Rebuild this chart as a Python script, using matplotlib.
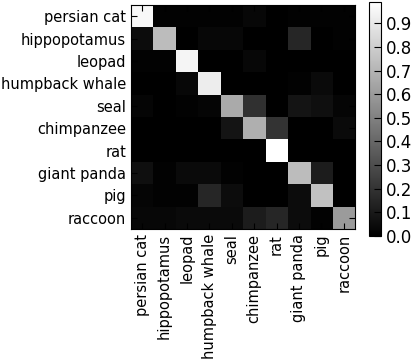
import numpy as np
import matplotlib
matplotlib.use('Agg')
import matplotlib.pyplot as plt

classes = ['persian cat', 'hippopotamus', 'leopad', 'humpback whale', 'seal',
           'chimpanzee', 'rat', 'giant panda', 'pig', 'raccoon']

# rows = true class, cols = predicted class
persian_cat = [0.96, 0.01, 0.01, 0.01, 0.01, 0.03, 0.00, 0.01, 0.01, 0.01]
hippopotamus = [0.05, 0.73, 0.00, 0.03, 0.03, 0.00, 0.00, 0.15, 0.00, 0.01]
leopad = [0.01, 0.01, 0.95, 0.00, 0.00, 0.03, 0.00, 0.00, 0.00, 0.00]
humpback_whale = [0.00, 0.00, 0.03, 0.92, 0.00, 0.00, 0.00, 0.01, 0.04, 0.00]
seal = [0.02, 0.00, 0.01, 0.02, 0.66, 0.19, 0.00, 0.08, 0.06, 0.02]
chimpanzee = [0.00, 0.00, 0.00, 0.00, 0.08, 0.68, 0.20, 0.00, 0.00, 0.04]
rat = [0.00, 0.00, 0.00, 0.00, 0.00, 0.00, 0.99, 0.00, 0.00, 0.00]
giant_panda = [0.06, 0.01, 0.04, 0.04, 0.01, 0.00, 0.00, 0.73, 0.11, 0.00]
pig = [0.02, 0.01, 0.01, 0.15, 0.05, 0.00, 0.00, 0.05, 0.75, 0.00]
raccoon = [0.03, 0.03, 0.04, 0.04, 0.04, 0.11, 0.15, 0.05, 0.01, 0.60]

cm = np.array([persian_cat, hippopotamus, leopad, humpback_whale, seal,
               chimpanzee, rat, giant_panda, pig, raccoon])

cbar_ticks = [0.0, 0.1, 0.2, 0.3, 0.4, 0.5, 0.6, 0.7, 0.8, 0.9]

plt.rcParams['xtick.direction'] = 'in'
plt.rcParams['ytick.direction'] = 'in'

fig = plt.figure(figsize=(4.15, 3.61), dpi=100)
ax = fig.add_axes([131/415, 1 - 229/361, 224/415, 224/361])
cax = fig.add_axes([369/415, 1 - 236/361, 12/415, 234/361])

im = ax.imshow(cm, cmap='gray', interpolation='nearest', vmin=0, vmax=0.99,
               aspect='auto')
ax.set_xticks(range(len(classes)))
ax.set_yticks(range(len(classes)))
ax.set_xticklabels(classes, rotation=90, fontsize=10.5)
ax.set_yticklabels(classes, fontsize=10.5)
ax.tick_params(top=True, right=True, length=4)

cb = fig.colorbar(im, cax=cax, ticks=cbar_ticks)
cb.ax.set_yticklabels(['%.1f' % t for t in cbar_ticks], fontsize=12)
cb.ax.tick_params(length=5, direction='in')

fig.savefig('out.png', dpi=100)
